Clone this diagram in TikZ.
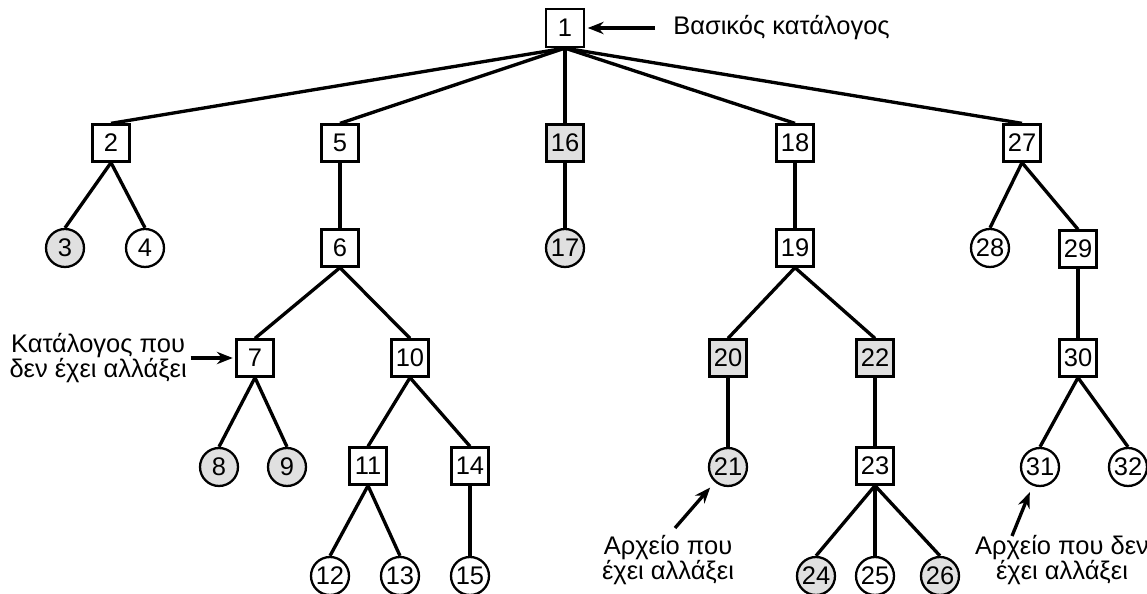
\documentclass[tikz,border=0pt]{standalone}
\usepackage{fontspec}
\setmainfont{Liberation Sans}
\usetikzlibrary{arrows.meta, positioning}
\definecolor{changedgray}{RGB}{224,224,224}
\newcommand{\branch}[2]
{
	\draw[treeline] (#1.south) -- (#2.north)
}

\begin{document}
\begin{tikzpicture}[x=0.02cm, y=-0.02cm,
	every node/.append style={font=\fontsize{14.5}{14.3}\selectfont},
	dirbox/.style={shape=rectangle, draw=black, line width=1.3pt,
		minimum size=0.74cm, inner sep=1pt, fill=white},
	filecirc/.style={shape=circle, draw=black, line width=1.3pt,
		minimum size=0.76cm, inner sep=0pt, fill=white},
	changed/.style={fill=changedgray},
	treeline/.style={line width=1.9pt},
	pointer/.style={line width=1.9pt, -{Stealth[length=9pt,width=7pt]}},
	note/.style={align=center, inner sep=0pt}]

	\useasboundingbox (0,0) rectangle (1147,594);

	% level 0
	\node[dirbox, minimum size=0.76cm] at (565, 28) (n1){1};
	% level 1
	\node[dirbox] at (111, 143) (n2){2};
	\node[dirbox] at (340, 143) (n5){5};
	\node[dirbox, changed] at (565, 143) (n16){16};
	\node[dirbox] at (795, 143) (n18){18};
	\node[dirbox] at (1022, 143) (n27){27};
	% level 2
	\node[filecirc, changed] at (65, 248) (n3){3};
	\node[filecirc] at (145, 248) (n4){4};
	\node[dirbox] at (340, 248) (n6){6};
	\node[filecirc, changed] at (565, 248) (n17){17};
	\node[dirbox] at (795, 248) (n19){19};
	\node[filecirc] at (990, 248) (n28){28};
	\node[dirbox] at (1078, 249) (n29){29};
	% level 3
	\node[dirbox] at (255, 358) (n7){7};
	\node[dirbox] at (410, 358) (n10){10};
	\node[dirbox, changed] at (728, 358) (n20){20};
	\node[dirbox, changed] at (875, 358) (n22){22};
	\node[dirbox] at (1078, 358) (n30){30};
	% level 4
	\node[filecirc, changed] at (219, 467) (n8){8};
	\node[filecirc, changed] at (287, 467) (n9){9};
	\node[dirbox] at (368, 466) (n11){11};
	\node[dirbox] at (470, 466) (n14){14};
	\node[filecirc, changed] at (728, 467) (n21){21};
	\node[dirbox] at (875, 466) (n23){23};
	\node[filecirc] at (1040, 467) (n31){31};
	\node[filecirc] at (1128, 467) (n32){32};
	% level 5
	\node[filecirc] at (330, 576) (n12){12};
	\node[filecirc] at (400, 576) (n13){13};
	\node[filecirc] at (470, 576) (n15){15};
	\node[filecirc, changed] at (816, 576) (n24){24};
	\node[filecirc] at (875, 576) (n25){25};
	\node[filecirc, changed] at (940, 576) (n26){26};

	\branch{n1}{n2};
	\branch{n1}{n5};
	\branch{n1}{n16};
	\branch{n1}{n18};
	\branch{n1}{n27};
	\branch{n2}{n3};
	\branch{n2}{n4};
	\branch{n5}{n6};
	\branch{n16}{n17};
	\branch{n18}{n19};
	\branch{n27}{n28};
	\branch{n27}{n29};
	\branch{n6}{n7};
	\branch{n6}{n10};
	\branch{n19}{n20};
	\branch{n19}{n22};
	\branch{n29}{n30};
	\branch{n7}{n8};
	\branch{n7}{n9};
	\branch{n10}{n11};
	\branch{n10}{n14};
	\branch{n20}{n21};
	\branch{n22}{n23};
	\branch{n30}{n31};
	\branch{n30}{n32};
	\branch{n11}{n12};
	\branch{n11}{n13};
	\branch{n14}{n15};
	\branch{n23}{n24};
	\branch{n23}{n25};
	\branch{n23}{n26};

	% notes
	\node[note, anchor=west] at (673, 28) (rootnote){Βασικός κατάλογος};
	\node[note, anchor=east] at (187, 358) (dirnote){Κατάλογος που\\δεν έχει αλλάξει};
	\node[note] at (668, 560) (changednote){Αρχείο που\\έχει αλλάξει};
	\node[note] at (1062, 560) (samenote){Αρχείο που δεν\\έχει αλλάξει};
	\coordinate (t1) at (655, 28);
	\coordinate (t21) at (675, 528);
	\coordinate (t31) at (1012, 536);

	\draw[pointer, shorten >=1.5pt] (t1) -- (n1);
	\draw[pointer, shorten <=2pt, shorten >=1.5pt] (dirnote.east) -- (n7);
	\draw[pointer, shorten >=4pt] (t21) -- (n21);
	\draw[pointer, shorten >=4pt] (t31) -- (n31);
\end{tikzpicture}
\end{document}
